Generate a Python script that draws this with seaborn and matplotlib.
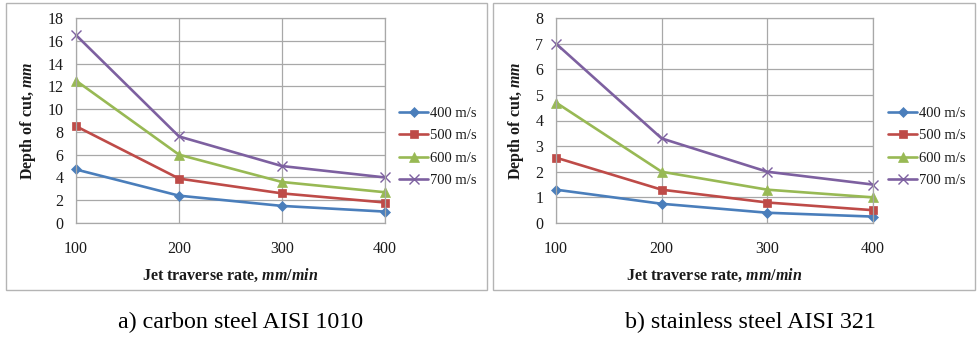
import matplotlib
matplotlib.use("Agg")
import matplotlib.pyplot as plt
import seaborn as sns
import pandas as pd
from matplotlib.patches import Rectangle

# ---- data ----
rates = [100, 200, 300, 400]
speeds = ["400 m/s", "500 m/s", "600 m/s", "700 m/s"]

carbon_400 = [4.7, 2.4, 1.5, 1.0]
carbon_500 = [8.5, 3.9, 2.6, 1.8]
carbon_600 = [12.5, 6.0, 3.6, 2.7]
carbon_700 = [16.5, 7.6, 5.0, 4.0]

stainless_400 = [1.3, 0.75, 0.4, 0.25]
stainless_500 = [2.55, 1.3, 0.8, 0.5]
stainless_600 = [4.7, 2.0, 1.3, 1.0]
stainless_700 = [7.0, 3.3, 2.0, 1.5]

caption_a = "a) carbon steel AISI 1010"
caption_b = "b) stainless steel AISI 321"
xlabel = r"Jet traverse rate, $mm/min$"
ylabel = r"Depth of cut, $mm$"


def long_df(series):
    rows = []
    for sp, vals in zip(speeds, series):
        for r, v in zip(rates, vals):
            rows.append({"rate": r, "depth": v, "speed": sp})
    return pd.DataFrame(rows)


df_a = long_df([carbon_400, carbon_500, carbon_600, carbon_700])
df_b = long_df([stainless_400, stainless_500, stainless_600, stainless_700])

sns.set_style("white")
plt.rcParams["font.family"] = ["Liberation Serif", "DejaVu Serif"]
plt.rcParams["mathtext.fontset"] = "custom"
plt.rcParams["mathtext.it"] = "Liberation Serif:italic:bold"
plt.rcParams["mathtext.rm"] = "Liberation Serif:bold"
plt.rcParams["mathtext.bf"] = "Liberation Serif:bold"

palette = {"400 m/s": "#4A7EBB", "500 m/s": "#BE4B48",
           "600 m/s": "#98B954", "700 m/s": "#7D60A0"}
markers = {"400 m/s": "D", "500 m/s": "s", "600 m/s": "^", "700 m/s": "x"}
msizes = {"400 m/s": 5.0, "500 m/s": 6.0, "600 m/s": 7.0, "700 m/s": 7.0}

W, H = 977, 340
fig = plt.figure(figsize=(W / 100, H / 100), dpi=100)


def px(x0, y0, x1, y1):
    return [x0 / W, 1 - y1 / H, (x1 - x0) / W, (y1 - y0) / H]


grid_c = "#A8A8A8"
text_c = "#1a1a1a"
fs_tick = 11.5
fs_lab = 11.5
fs_leg = 10.5


def panel(df, rect, ymax, ystep, ylab_x, xlab_x, leg_x, border):
    # chart-area border
    bx0, by0, bx1, by1 = border
    fig.patches.append(Rectangle((bx0 / W, 1 - by1 / H), (bx1 - bx0) / W, (by1 - by0) / H,
                                 transform=fig.transFigure, fill=False,
                                 edgecolor="#B4B4B4", linewidth=1.0))
    ax = fig.add_axes(px(*rect))
    sns.lineplot(data=df, x="rate", y="depth", hue="speed",
                 hue_order=speeds, palette=palette,
                 marker="o", linewidth=1.9, legend=False, ax=ax)
    for ln, sp in zip(ax.get_lines(), speeds):
        ln.set_marker(markers[sp])
        ln.set_markersize(msizes[sp])
        ln.set_markeredgecolor(palette[sp])
        ln.set_markerfacecolor(palette[sp])
        ln.set_markeredgewidth(1.0 if sp == "700 m/s" else 0.5)
        ln.set_clip_on(False)
        ln.set_label(sp)
    ax.set_xlim(100, 400)
    ax.set_ylim(0, ymax)
    ax.set_xticks(rates)
    n = int(round(ymax / ystep))
    ax.set_yticks([i * ystep for i in range(n + 1)])
    ax.set_yticklabels([f"{int(i * ystep)}" for i in range(n + 1)])
    ax.grid(True, color=grid_c, linewidth=0.9)
    ax.set_axisbelow(True)
    for s in ax.spines.values():
        s.set_color(grid_c)
        s.set_linewidth(0.9)
    ax.tick_params(axis="both", length=0, labelsize=fs_tick, colors=text_c)
    ax.tick_params(axis="y", pad=9)
    ax.tick_params(axis="x", pad=13)
    ax.set_xlabel("")
    ax.set_ylabel("")
    fig.text(ylab_x / W, 1 - 121 / H, ylabel, rotation=90, ha="center", va="center",
             fontsize=fs_lab, fontweight="bold", color=text_c)
    fig.text(xlab_x / W, 1 - 275 / H, xlabel, ha="center", va="center",
             fontsize=fs_lab, fontweight="bold", color=text_c)
    handles = ax.get_lines()[:4]
    ax.legend(handles=handles, labels=speeds, loc="center left",
              bbox_to_anchor=(leg_x / W, 1 - 147 / H), bbox_transform=fig.transFigure,
              frameon=False, fontsize=fs_leg, handlelength=2.0, handletextpad=0.1,
              labelspacing=0.62, borderpad=0, borderaxespad=0,
              labelcolor=text_c)
    return ax


panel(df_a, (76, 18, 385, 223), 18, 2, 28, 230, 399, (6, 3, 487, 290))
panel(df_b, (556, 18, 873, 223), 8, 1, 516, 714, 888, (493, 3, 975, 290))

fig.text(241 / W, 1 - 322 / H, caption_a, ha="center", va="center", fontsize=17.3, color="#000000")
fig.text(750 / W, 1 - 322 / H, caption_b, ha="center", va="center", fontsize=17.3, color="#000000")

fig.savefig("out.png", dpi=100)
